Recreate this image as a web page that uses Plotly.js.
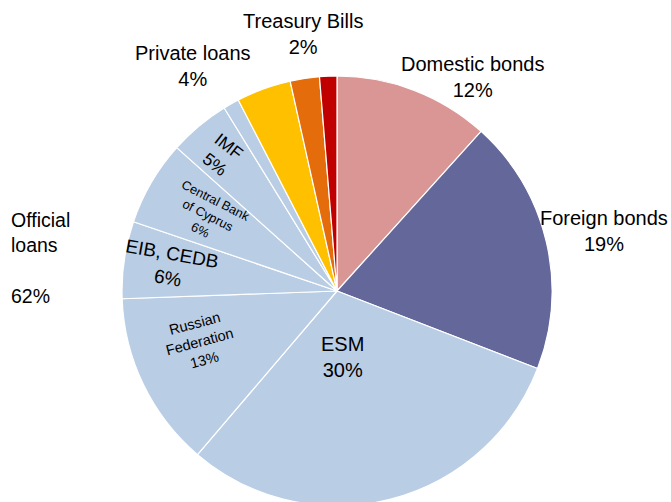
<!DOCTYPE html>
<html>
<head>
<meta charset="utf-8">
<script src="https://cdn.plot.ly/plotly-3.0.1.min.js"></script>
<style>
  html, body { margin: 0; padding: 0; overflow: hidden; background: #ffffff; }
  #chart { width: 671px; height: 506px; }
</style>
</head>
<body>
<div id="chart"></div>
<script>
// ---- data (clockwise from 12 o'clock), share of debt in % ----
var categories = [
  "Domestic bonds", "Foreign bonds", "ESM", "Russian Federation",
  "EIB, CEDB", "Central Bank of Cyprus", "IMF", "Other official loans",
  "Private loans", "Treasury Bills", "Other"
];
var values = [11.7, 19.2, 30.4, 13.2, 5.8, 6.4, 4.6, 1.2, 4.1, 2.2, 1.3];
// text of each slice label (line breaks as in the picture); null = no label
var labelLines = [
  ["Domestic bonds"], ["Foreign bonds"], ["ESM"], ["Russian", "Federation"],
  ["EIB, CEDB"], ["Central Bank", "of Cyprus"], ["IMF"], null,
  ["Private loans"], ["Treasury Bills"], null
];
var officialGroup = ["ESM", "Russian Federation", "EIB, CEDB", "Central Bank of Cyprus", "IMF", "Other official loans"];
var officialTitle = ["Official", "loans"];

// ---- styles ----
var sliceColors = ["#D99694", "#646799", "#B9CDE5", "#B9CDE5", "#B9CDE5", "#B9CDE5",
                   "#B9CDE5", "#B9CDE5", "#FFC000", "#E46C0A", "#C00000"];
var W = 671, H = 506;
var FONT = "Liberation Sans, Arial, sans-serif";
// label placement: [centerX px, centerY px, font size, angle]
var labelStyle = [
  [472, 77, 20, 0], [604, 231, 20, 0], [342, 357, 20, 0], [199, 342, 14.5, -15],
  [170, 266, 19, 10], [208, 215, 12.8, 27], [222, 155, 17.5, 38], null,
  [193, 66, 20, 0], [303, 34, 20, 0], null
];

var total = values.reduce(function (a, b) { return a + b; }, 0);
function pct(v) { return Math.round(v / total * 100) + "%"; }

var annotations = [];
categories.forEach(function (c, i) {
  if (!labelLines[i]) return;
  var s = labelStyle[i];
  annotations.push({
    xref: "paper", yref: "paper",
    x: s[0] / W, y: 1 - s[1] / H,
    xanchor: "center", yanchor: "middle",
    text: labelLines[i].concat([pct(values[i])]).join("<br>"),
    showarrow: false, textangle: s[3],
    font: { family: FONT, size: s[2], color: "#000000" }
  });
});
var officialSum = 0;
categories.forEach(function (c, i) { if (officialGroup.indexOf(c) >= 0) officialSum += values[i]; });
annotations.push({
  xref: "paper", yref: "paper",
  x: 9 / W, y: 1 - 258 / H,
  xanchor: "left", yanchor: "middle", align: "left",
  text: officialTitle.concat(["", pct(officialSum)]).join("<br>"),
  showarrow: false,
  font: { family: FONT, size: 19.5, color: "#000000" }
});

var R = 215, CX = 337;
var trace = {
  type: "pie",
  labels: categories,
  values: values,
  sort: false,
  direction: "clockwise",
  rotation: 0,
  textinfo: "none",
  hoverinfo: "label+percent",
  marker: { colors: sliceColors, line: { color: "#ffffff", width: 1.2 } },
  domain: { x: [(CX - R) / W, (CX + R) / W], y: [0, 2 * R / H] },
  showlegend: false
};

var layout = {
  width: W, height: H,
  margin: { l: 0, r: 0, t: 0, b: 0 },
  paper_bgcolor: "#ffffff",
  font: { family: FONT },
  showlegend: false,
  annotations: annotations
};

Plotly.newPlot("chart", [trace], layout, { displayModeBar: false, staticPlot: true });
</script>
</body>
</html>
